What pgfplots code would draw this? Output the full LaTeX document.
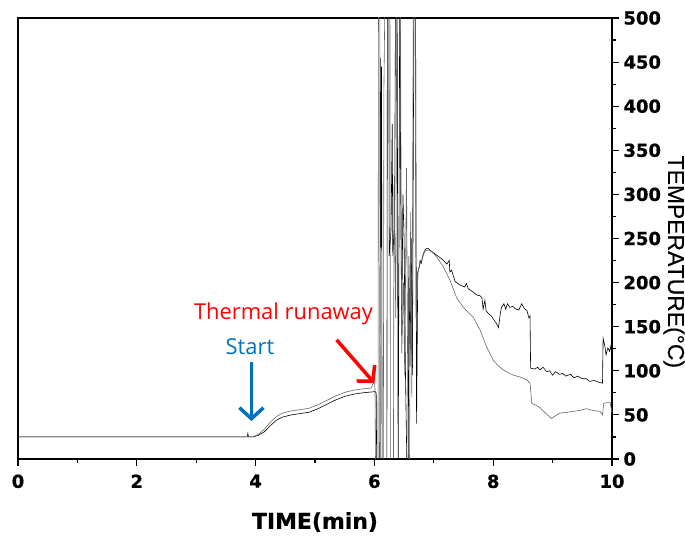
\documentclass[border=0pt]{standalone}
\usepackage{fontspec}
\setmainfont{DejaVu Sans}
\newfontfamily\boldfont{DejaVu Sans}[UprightFont=*-Bold, FakeBold=0.8]
\newfontfamily\annfont{Open Sans}
\newfontfamily\labfont{Liberation Sans}[FakeBold=0.3]
\usepackage{pgfplots}
\pgfplotsset{compat=1.18}
\usetikzlibrary{arrows.meta}
\definecolor{startblue}{RGB}{0,112,192}
\definecolor{runred}{RGB}{255,0,0}

\begin{document}
\begin{tikzpicture}
\path[use as bounding box] (-18bp,-77bp) rectangle (667bp,459bp);
\begin{axis}[
    scale only axis,
    width=594bp, height=441bp,
    xmin=0, xmax=10, ymin=0, ymax=500,
    xtick={0,2,...,10}, ytick={0,50,...,500},
    minor x tick num=1, minor y tick num=1,
    xtick pos=left, ytick pos=right, yticklabel pos=right,
    tick align=outside,
    major tick length=7bp, minor tick length=4bp,
    axis line style={line width=1.2pt},
    every tick/.style={black, line width=1.2pt},
    tick label style={font=\boldfont\fontsize{18}{18}\selectfont},
    /pgf/number format/assume math mode=true,
    xticklabel style={yshift=-5bp},
    yticklabel style={xshift=1bp},
    xlabel={TIME(min)},
    every axis x label/.style={at={(rel axis cs:0.5,0)}, anchor=center, yshift=-63bp,
        font=\boldfont\fontsize{22}{22}\selectfont},
    ylabel={TEMPERATURE(°C)},
    every axis y label/.style={at={(rel axis cs:1,0.447)}, xshift=62bp, rotate=-90, anchor=center,
        font=\labfont\fontsize{23}{23}\selectfont},
]
% series A (darker)
\addplot[black, line width=0.6pt] coordinates {
(0,25) (3.86,25) (3.87,29) (3.88,25) (3.95,25) (4.05,27) (4.15,31) (4.25,38) (4.35,44)
(4.45,47.5) (4.6,50) (4.75,51.5) (4.9,53) (5.05,57) (5.2,62) (5.35,67) (5.5,71) (5.65,73.5)
(5.8,75) (5.95,76) (6.01,76.5) (6.03,75) (6.04,-20) (6.09,-20) (6.10,455) (6.11,240)
(6.12,445) (6.13,-20) (6.21,-20) (6.22,600) (6.24,600) (6.25,230) (6.28,260) (6.30,380)
(6.31,230) (6.34,265) (6.36,600) (6.38,600) (6.40,-20) (6.41,170) (6.43,600) (6.44,330)
(6.46,140) (6.48,300) (6.50,250) (6.52,110) (6.55,-20) (6.57,-20) (6.58,230) (6.60,105)
(6.62,250) (6.64,95) (6.67,600) (6.69,600) (6.71,40) (6.73,212) (6.75,216) (6.77,225)
(6.79,222) (6.82,232) (6.86,238) (6.90,239) (6.95,236) (7.05,231) (7.15,226) (7.22,221)
(7.26,225) (7.27,212) (7.30,214) (7.36,201) (7.45,197) (7.52,195) (7.55,199) (7.58,193)
(7.65,190) (7.72,186) (7.78,185) (7.81,183) (7.83,170) (7.86,180) (7.88,168) (7.92,165)
(7.97,162) (8.02,157) (8.07,152) (8.09,149) (8.12,165) (8.14,172) (8.18,176) (8.21,170)
(8.24,176) (8.28,172) (8.33,173) (8.38,170) (8.43,169) (8.48,176) (8.52,171) (8.57,168)
(8.60,160) (8.62,162) (8.63,103) (8.70,102) (8.75,104) (8.79,101) (8.84,104) (8.90,99)
(8.95,100) (9.00,95) (9.05,99) (9.12,96) (9.17,97) (9.22,94) (9.30,96) (9.36,92)
(9.42,94) (9.50,91) (9.57,91) (9.62,88) (9.70,89) (9.78,87) (9.84,86) (9.85,137)
(9.88,128) (9.90,118) (9.93,126) (9.96,122) (9.98,128) (9.995,120) (10,215)
};
% series B (lighter)
\addplot[black!60, line width=0.6pt] coordinates {
(0,25) (3.95,25) (4.05,28) (4.15,34) (4.25,42) (4.35,48) (4.45,52) (4.6,54.5) (4.75,56)
(4.9,57.5) (5.05,61.5) (5.2,66.5) (5.35,71.5) (5.5,75.5) (5.65,78) (5.8,79.5) (5.95,80.5)
(5.97,85) (6.00,86) (6.01,80) (6.02,-20) (6.06,-20) (6.07,600) (6.09,600) (6.10,-20)
(6.15,-20) (6.16,420) (6.19,600) (6.26,600) (6.27,-20) (6.32,-20) (6.33,310) (6.36,160)
(6.38,600) (6.41,600) (6.44,480) (6.46,120) (6.49,200) (6.51,95) (6.54,330) (6.57,-20)
(6.59,-20) (6.61,280) (6.63,70) (6.66,600) (6.68,600) (6.70,160) (6.73,210) (6.76,220)
(6.80,226) (6.85,236) (6.92,237) (7.00,233) (7.08,226) (7.16,218) (7.27,203) (7.39,182)
(7.50,172) (7.58,166) (7.67,160) (7.78,146) (7.89,127) (8.00,112) (8.08,106) (8.17,101)
(8.25,98) (8.34,95) (8.45,93) (8.56,90) (8.62,86) (8.65,63) (8.72,61) (8.79,58) (8.88,52)
(8.98,46) (9.05,49) (9.12,52) (9.25,53) (9.35,54) (9.45,55) (9.57,57) (9.68,55) (9.80,54)
(9.84,50) (9.86,63) (9.92,64) (9.97,64) (10,52)
};
\node[text=startblue, font=\annfont\fontsize{22}{22}\selectfont] at (axis cs:3.906,127) {Start};
\node[text=runred, font=\annfont\fontsize{22}{22}\selectfont] at (axis cs:4.47,165) {Thermal runaway};
\draw[startblue, line width=3.5bp, -{Straight Barb[length=11bp,width=24bp,line width=3.5bp]}]
    (axis cs:3.93,110) -- (axis cs:3.93,43);
\draw[runred, line width=3.5bp, -{Straight Barb[length=11bp,width=24bp,line width=3.5bp]}]
    (axis cs:5.365,135) -- (axis cs:6.0,86);
\end{axis}
\end{tikzpicture}
\end{document}
